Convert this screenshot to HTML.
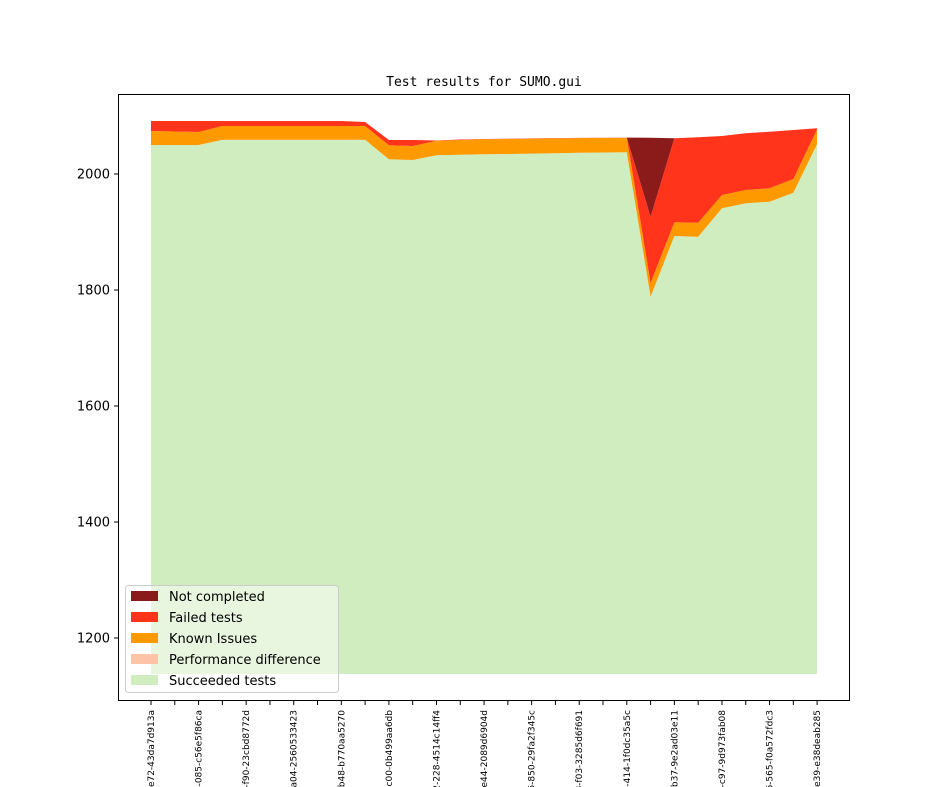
<!DOCTYPE html>
<html><head><meta charset="utf-8"><style>body{margin:0;background:#fff}svg{display:block}</style></head>
<body>
<svg id="s" width="944" height="787" xmlns="http://www.w3.org/2000/svg" font-family="DejaVu Sans, Liberation Sans, sans-serif">
<rect width="944" height="787" fill="#fff"/>
<g id="areas"></g>
<rect x="118.5" y="94.5" width="731" height="606" fill="none" stroke="#000" stroke-width="1"/>
<text x="484" y="86" font-family="DejaVu Sans Mono, Liberation Mono, monospace" font-size="13" text-anchor="middle">Test results for SUMO.gui</text>
<g font-size="13" text-anchor="end" id="yt"></g>
<g font-size="9" id="xt"></g>
<g>
<rect x="125.5" y="585.5" width="213" height="107" rx="3" fill="#fff" fill-opacity="0.5" stroke="#ccc"/>
<rect x="131" y="591" width="27" height="10" fill="#8b1a1a"/>
<rect x="131" y="612" width="27" height="10" fill="#ff341b"/>
<rect x="131" y="633" width="27" height="10" fill="#ff9900"/>
<rect x="131" y="654" width="27" height="10" fill="#fdc4a7"/>
<rect x="131" y="675" width="27" height="10" fill="#d0edbf"/>
<g font-size="13" fill="#000">
<text x="169" y="601">Not completed</text>
<text x="169" y="622">Failed tests</text>
<text x="169" y="643">Known Issues</text>
<text x="169" y="664">Performance difference</text>
<text x="169" y="685">Succeeded tests</text>
</g></g>
</svg>
<script>
var N=29,xs=[];for(var i=0;i<N;i++)xs.push(151+23.79*i);
var g=[145,145,145,139.7,139.7,139.7,139.7,139.7,139.7,139.7,159.3,160,155.3,154.8,154.3,154,153.6,153.2,152.8,152.5,152.3,296.7,236,236.7,208.3,203.3,201.7,192.7,144];
var o=[131,131.5,132,126,126,126,126,126,126,126,145.3,146,140.7,140,139.3,139,138.7,138.4,138.1,137.9,137.7,283,222.3,222.7,195,190,188.3,179,129.3];
var r=[121,121,121,121,121,121,121,121,121,122,140,140,140.5,139.5,139,138.7,138.4,138.1,137.9,137.7,137.6,216.7,138.3,137.3,136,133.3,131.7,130,128.3];
var d=r.slice();d[21]=137.7;
function band(top,bot,c){var p=[];for(var i=0;i<N;i++)p.push(xs[i]+','+top[i]);for(var i=N-1;i>=0;i--)p.push(xs[i]+','+bot[i]);return '<polygon points="'+p.join(' ')+'" fill="'+c+'"/>';}
var base=[];for(var i=0;i<N;i++)base.push(674);
var h=band(g,base,'#d0edbf')+band(o,g,'#ff9900')+band(r,o,'#ff341b')+band(d,r,'#8b1a1a');
document.getElementById('areas').innerHTML=h;
var yt='';[2000,1800,1600,1400,1200].forEach(function(v){var y=174+(2000-v)*0.58;yt+='<line x1="114" x2="118" y1="'+y+'" y2="'+y+'" stroke="#000"/><text x="110" y="'+(y+4.5)+'">'+v+'</text>';});
document.getElementById('yt').innerHTML=yt;
var labs=['a3f1-e72-43da7d913a','b2c4-085-c56e5f86ca','c1d3-f90-23cbd8772d','d8e2-a04-2560533423','e4f1-b48-b770aa5270','f6a2-c00-0b499aa6db','a1b2-228-4514c14ff4','b3c4-e44-2089d6904d','c5d6-850-29fa2f345c','d7e8-f03-3285d6f691','e9f0-414-1f0dc35a5c','f1a2-b37-9e2ad03e11','a3b4-c97-9d973fab08','b5c6-565-f0a572fdc3','c7d8-e39-e38deab285'];
var xt='';for(var i=0;i<N;i++){xt+='<line x1="'+xs[i]+'" x2="'+xs[i]+'" y1="701" y2="705" stroke="#000"/>';if(i%2==0){var x=xs[i]+3;xt+='<text transform="translate('+x+',710) rotate(-90)" text-anchor="end">'+labs[i/2]+'</text>';}}
document.getElementById('xt').innerHTML=xt;
</script>
</body></html>
